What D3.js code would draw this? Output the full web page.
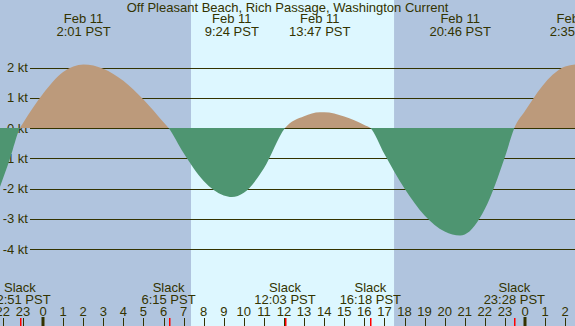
<!DOCTYPE html>
<html>
<head>
<meta charset="utf-8">
<script src="https://cdn.jsdelivr.net/npm/d3@7"></script>
<style>
  body { margin: 0; padding: 0; overflow: hidden; }
  svg { display: block; }
  text { font-family: "Liberation Sans", Arial, sans-serif; font-size: 13px; fill: #333300; }
</style>
</head>
<body>
<div id="chart"></div>
<script>
/* current readings, hours from midnight Feb 11 (PST) */
var hours = [-2.3, -2.14, -1.64, -1.5, -1.15, -1, 0, 1, 2.02, 3, 4, 5, 6, 6.25, 7, 8, 9, 9.4, 10, 11, 12.05,
  13, 13.78, 14, 15, 16, 16.3, 17, 18, 19, 20, 20.77, 21, 22, 23, 23.47, 24, 25, 26, 26.58, 27.2];
var knots = [-2.25, -1.94, -1.0, -0.7, 0, 0.16, 1.13, 1.85, 2.1, 1.96, 1.56, 0.94, 0.19, 0, -0.83, -1.75, -2.23, -2.28, -2.14, -1.33, 0,
  0.39, 0.52, 0.52, 0.38, 0.1, 0, -0.86, -2.0, -2.89, -3.42, -3.55, -3.52, -2.68, -0.96, 0, 0.56, 1.5, 2.03, 2.1, 2.05];

var peakHours = [2.02, 9.4, 13.78, 20.77, 26.58];
var peakDates = ["Feb 11", "Feb 11", "Feb 11", "Feb 11", "Feb 12"];
var peakTimes = ["2:01 PST", "9:24 PST", "13:47 PST", "20:46 PST", "2:35 PST"];

var slackHours = [-1.15, 6.25, 12.05, 16.3, 23.47];
var slackTimes = ["22:51 PST", "6:15 PST", "12:03 PST", "16:18 PST", "23:28 PST"];

var sunrise = 7.37, sunset = 17.48;
var ktTicks = [2, 1, 0, -1, -2, -3, -4];
var hourTicks = d3.range(-2, 27);
var title = "Off Pleasant Beach, Rich Passage, Washington Current";

var width = 575, height = 326;
var nightColor = "#b0c4de", dayColor = "#ddf7ff";
var floodColor = "#bc9a7b", ebbColor = "#4e9571";

var svg = d3.select("#chart").append("svg")
  .attr("width", width)
  .attr("height", height);

var x = d3.scaleLinear().domain([0, 24]).range([43, 525]);
var y = d3.scaleLinear().domain([-4, 2]).range([249, 67.5]);

/* night / day background */
svg.append("rect").attr("x", 0).attr("y", 0).attr("width", width).attr("height", height).attr("fill", nightColor);
svg.append("rect")
  .attr("x", x(sunrise)).attr("y", 0)
  .attr("width", x(sunset) - x(sunrise)).attr("height", height)
  .attr("fill", dayColor);

/* grid lines + labels */
var grid = svg.append("g");
grid.selectAll("line")
  .data(ktTicks.filter(function(d) { return d != 0; }))
  .enter().append("line")
  .attr("x1", 30).attr("x2", width)
  .attr("y1", function(d) { return Math.round(y(d)) + 0.5; })
  .attr("y2", function(d) { return Math.round(y(d)) + 0.5; })
  .attr("stroke", "#333300").attr("stroke-width", 1);
grid.selectAll("text")
  .data(ktTicks)
  .enter().append("text")
  .attr("x", 28)
  .attr("y", function(d) { return y(d) + 4.7; })
  .attr("text-anchor", "end")
  .text(function(d) { return d + " kt"; });

/* current area */
var pts = hours.map(function(h, i) { return [h, knots[i]]; });
var area = d3.area()
  .curve(d3.curveMonotoneX)
  .x(function(d) { return x(d[0]); })
  .y0(y(0))
  .y1(function(d) { return y(d[1]); });

var defs = svg.append("defs");
defs.append("clipPath").attr("id", "above")
  .append("rect").attr("x", 0).attr("y", 0).attr("width", width).attr("height", y(0));
defs.append("clipPath").attr("id", "below")
  .append("rect").attr("x", 0).attr("y", y(0)).attr("width", width).attr("height", height - y(0));

svg.append("path").datum(pts)
  .attr("d", area).attr("fill", floodColor)
  .attr("clip-path", "url(#above)");

svg.append("line")
  .attr("x1", 30).attr("x2", width)
  .attr("y1", Math.round(y(0)) + 0.5).attr("y2", Math.round(y(0)) + 0.5)
  .attr("stroke", "#333300").attr("stroke-width", 1);

svg.append("path").datum(pts)
  .attr("d", area).attr("fill", ebbColor)
  .attr("clip-path", "url(#below)");

/* title */
svg.append("text")
  .attr("x", 287.5).attr("y", 11.5)
  .attr("text-anchor", "middle")
  .text(title);

/* max / min labels on top */
var peaks = svg.append("g").selectAll("g")
  .data(peakHours)
  .enter().append("g")
  .attr("transform", function(d) { return "translate(" + x(d) + ",0)"; });
peaks.append("text").attr("y", 23.3).attr("text-anchor", "middle")
  .text(function(d, i) { return peakDates[i]; });
peaks.append("text").attr("y", 35.7).attr("text-anchor", "middle")
  .text(function(d, i) { return peakTimes[i]; });

/* slack labels at bottom */
var slacks = svg.append("g").selectAll("g")
  .data(slackHours)
  .enter().append("g")
  .attr("transform", function(d) { return "translate(" + x(d) + ",0)"; });
slacks.append("text").attr("y", 291.7).attr("text-anchor", "middle").text("Slack");
slacks.append("text").attr("y", 304).attr("text-anchor", "middle")
  .text(function(d, i) { return slackTimes[i]; });

/* hour axis */
var hx = svg.append("g");
hx.selectAll("text")
  .data(hourTicks)
  .enter().append("text")
  .attr("x", function(d) { return x(d); })
  .attr("y", 315.7)
  .attr("text-anchor", "middle")
  .text(function(d) { return ((d % 24) + 24) % 24; });
hx.selectAll("rect.tick")
  .data(hourTicks)
  .enter().append("rect")
  .attr("class", "tick")
  .attr("x", function(d) { return d % 24 == 0 ? Math.round(x(d)) - 1.5 : Math.round(x(d)); })
  .attr("y", function(d) { return d % 24 == 0 ? 317 : 318; })
  .attr("width", function(d) { return d % 24 == 0 ? 3 : 1; })
  .attr("height", function(d) { return d % 24 == 0 ? 9 : 8; })
  .attr("fill", "#333300");
hx.selectAll("rect.slack")
  .data(slackHours)
  .enter().append("rect")
  .attr("class", "slack")
  .attr("x", function(d) { return Math.round(x(d)); })
  .attr("y", 318)
  .attr("width", 1.5)
  .attr("height", 8)
  .attr("fill", "#ff0000");
</script>
</body>
</html>
